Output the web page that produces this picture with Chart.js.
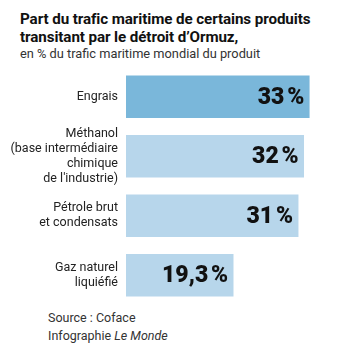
<!DOCTYPE html>
<html lang="fr">
<head>
<meta charset="utf-8">
<script src="https://cdn.jsdelivr.net/npm/chart.js@4"></script>
<style>
  html,body{margin:0;padding:0;background:#fff;}
  body{width:341px;height:356px;position:relative;overflow:hidden;font-family:Roboto,'Noto Sans',sans-serif;color:#222;}
  .title{position:absolute;left:20px;top:10px;font-weight:700;font-size:15.2px;line-height:18px;letter-spacing:-0.1px;color:#111;}
  .sub{position:absolute;left:20px;top:46px;font-size:12.8px;line-height:16px;color:#333;}
  .wrap{position:absolute;left:0;top:67px;width:341px;height:238px;}
  .src{position:absolute;left:48px;top:309px;font-size:12.5px;line-height:18px;color:#333;}
</style>
</head>
<body>
<div class="title">Part du trafic maritime de certains produits<br>transitant par le détroit d’Ormuz,</div>
<div class="sub">en % du trafic maritime mondial du produit</div>
<div class="wrap"><canvas id="chart"></canvas></div>
<div class="src">Source : Coface<br>Infographie <i>Le Monde</i></div>
<script>
// ─── Data ───
const CATEGORIES = [
    ['Engrais'],
    ['Méthanol','(base intermédiaire','chimique','de l\'industrie)'],
    ['Pétrole brut','et condensats'],
    ['Gaz naturel','liquiéfié']
];
const VALUES = [33, 32, 31, 19.3];
const COLORS = ['#7ab7da','#b7d6eb','#b7d6eb','#b7d6eb'];

function fmtPct(v){return v.toLocaleString('fr-FR')+'\u202f%';}

// ─── Value labels inside bars ───
const valueLabels = {
    id:'valueLabels',
    afterDatasetsDraw(chart){
        const ctx=chart.ctx;
        const meta=chart.getDatasetMeta(0);
        ctx.save();
        ctx.font="900 23px Roboto, 'Noto Sans', sans-serif";
        ctx.fillStyle='#111';
        ctx.textAlign='right';
        ctx.textBaseline='middle';
        meta.data.forEach((bar,i)=>{
            ctx.fillText(fmtPct(VALUES[i]), bar.x-5, bar.y+1);
        });
        ctx.restore();
    }
};

Chart.defaults.font.family="Roboto, 'Noto Sans', sans-serif";
Chart.defaults.color='#333';

new Chart(document.getElementById('chart').getContext('2d'),{
    type:'bar',
    data:{labels:CATEGORIES,datasets:[{data:VALUES,backgroundColor:COLORS,barThickness:42,borderWidth:0}]},
    options:{
        indexAxis:'y',
        responsive:true,maintainAspectRatio:false,animation:false,
        layout:{padding:{left:0,right:4,top:0,bottom:0}},
        plugins:{legend:{display:false},tooltip:{enabled:false}},
        scales:{
            x:{display:false,min:0,max:38},
            y:{
                grid:{display:false,drawTicks:false},border:{display:false},
                ticks:{font:{size:12.5},color:'#222',padding:8,lineHeight:1.05,autoSkip:false},
                afterFit(s){s.width=126;s.paddingTop=0;s.paddingBottom=0;}
            }
        }
    },
    plugins:[valueLabels]
});
</script>
</body>
</html>
